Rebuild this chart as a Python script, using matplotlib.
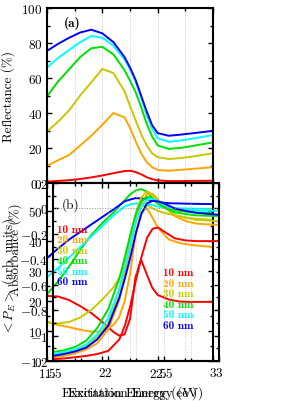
import numpy as np
import matplotlib
matplotlib.use('Agg')
import matplotlib.pyplot as plt
from matplotlib.ticker import MultipleLocator, FuncFormatter

plt.rcParams['font.family'] = ['cmr10', 'DejaVu Serif']
plt.rcParams['mathtext.fontset'] = 'cm'
plt.rcParams['axes.unicode_minus'] = False

# film thickness labels and colours
labels = ['10 nm', '20 nm', '30 nm', '40 nm', '50 nm', '60 nm']
colors = ['#ff0000', '#ffa500', '#c8c800', '#00e000', '#00ffff', '#0000ff']

# (a) reflectance (%)
E_a = [1.5, 1.6, 1.7, 1.8, 1.9, 2.0, 2.1, 2.2, 2.25, 2.3, 2.35, 2.4, 2.45, 2.5, 2.6, 2.7, 2.8, 3.0]
R_10 = [0.8, 1.2, 1.6, 2.3, 3.2, 4.3, 5.6, 6.8, 7.0, 6.3, 5.0, 3.3, 2.2, 1.5, 1.1, 1.1, 1.2, 1.3]
R_20 = [9.8, 13.0, 16.0, 21.5, 27.0, 33.3, 40.0, 37.5, 31.5, 24.0, 17.0, 12.0, 9.0, 7.5, 7.0, 7.5, 8.0, 9.0]
R_30 = [29.5, 35.0, 41.5, 50.0, 57.5, 65.2, 62.8, 52.5, 44.0, 36.0, 28.0, 21.5, 17.0, 14.8, 13.7, 14.2, 15.0, 17.0]
R_40 = [49.5, 58.0, 65.0, 72.0, 77.0, 77.8, 73.5, 64.5, 58.5, 52.0, 43.5, 34.0, 26.5, 21.5, 19.5, 20.0, 21.0, 23.2]
R_50 = [66.0, 71.5, 76.0, 80.5, 84.0, 83.0, 78.5, 70.5, 65.0, 58.0, 49.0, 39.0, 31.0, 25.5, 23.6, 24.2, 25.2, 27.4]
R_60 = [75.5, 79.5, 83.0, 86.0, 87.6, 85.5, 80.5, 72.0, 66.0, 59.0, 50.0, 41.0, 33.0, 28.5, 27.0, 27.6, 28.3, 29.8]

# (b) absorbance (%)
E_b = [1.5, 1.6, 1.7, 1.8, 1.9, 2.0, 2.1, 2.15, 2.2, 2.25, 2.3, 2.35, 2.4, 2.45, 2.5, 2.6, 2.7, 2.8, 3.0]
A_10 = [21.7, 21.5, 20.3, 18.3, 16.0, 13.0, 9.7, 8.5, 8.8, 14.0, 28.0, 33.8, 29.0, 24.5, 22.0, 20.5, 19.8, 19.7, 19.7]
A_20 = [13.0, 12.0, 11.3, 10.4, 9.8, 9.8, 12.0, 14.5, 19.7, 29.0, 42.0, 49.5, 51.0, 48.0, 44.5, 40.5, 39.3, 38.7, 38.0]
A_30 = [13.0, 12.5, 13.0, 14.5, 17.0, 20.5, 24.5, 27.5, 32.0, 39.0, 46.5, 51.5, 52.0, 51.0, 50.0, 49.0, 48.2, 47.6, 47.0]
A_40 = [22.3, 26.5, 31.5, 37.0, 42.0, 46.0, 49.5, 51.5, 53.5, 55.5, 56.8, 57.3, 56.5, 54.5, 52.5, 50.8, 50.0, 49.6, 49.3]
A_50 = [28.0, 31.0, 34.5, 38.0, 41.5, 45.0, 48.5, 50.0, 51.5, 52.2, 52.5, 52.5, 52.3, 52.0, 51.5, 51.0, 50.9, 50.8, 50.7]
A_60 = [34.3, 37.5, 40.5, 43.0, 45.5, 48.0, 50.5, 51.8, 53.2, 53.8, 54.3, 54.2, 54.0, 53.5, 53.0, 52.6, 52.5, 52.4, 52.3]

# (b) <P_E> (arb. units)
P_10 = [-1.185, -1.18, -1.17, -1.16, -1.145, -1.12, -1.03, -0.92, -0.76, -0.56, -0.38, -0.23, -0.16, -0.15, -0.18, -0.235, -0.252, -0.257, -0.257]
P_20 = [-1.17, -1.16, -1.14, -1.11, -1.06, -0.95, -0.72, -0.5, -0.3, -0.1, 0.04, 0.11, 0.115, 0.07, 0.02, -0.06, -0.1, -0.12, -0.13]
P_30 = [-1.15, -1.14, -1.12, -1.08, -1.01, -0.9, -0.64, -0.45, -0.22, -0.03, 0.09, 0.135, 0.11, 0.06, 0.01, -0.05, -0.075, -0.09, -0.1]
P_40 = [-1.13, -1.115, -1.09, -1.04, -0.94, -0.79, -0.55, -0.38, -0.2, -0.04, 0.06, 0.09, 0.08, 0.04, 0.01, -0.03, -0.045, -0.055, -0.06]
P_50 = [-1.145, -1.13, -1.11, -1.07, -0.99, -0.86, -0.63, -0.46, -0.28, -0.1, 0.02, 0.07, 0.075, 0.055, 0.03, 0.0, -0.01, -0.015, -0.02]
P_60 = [-1.16, -1.145, -1.125, -1.095, -1.03, -0.92, -0.7, -0.55, -0.38, -0.19, -0.04, 0.04, 0.06, 0.055, 0.04, 0.0, -0.02, -0.035, -0.05]

R_all = [R_10, R_20, R_30, R_40, R_50, R_60]
A_all = [A_10, A_20, A_30, A_40, A_50, A_60]
P_all = [P_10, P_20, P_30, P_40, P_50, P_60]

W, H = 298.0, 402.0
fig = plt.figure(figsize=(W / 100, H / 100), dpi=100)
axa = fig.add_axes([47 / W, 1 - 184 / H, 166 / W, 175 / H])
ax1 = fig.add_axes([47 / W, 40 / H, 166 / W, 178 / H])
ax2 = fig.add_axes([53 / W, 40 / H, 166 / W, 178 / H])
ax2.patch.set_visible(False)

fmt = FuncFormatter(lambda v, p: '$%g$' % round(v, 2))
fs = 9.5


def style(ax):
    ax.set_xlim(1.5, 3.0)
    ax.xaxis.set_major_locator(MultipleLocator(0.5))
    ax.xaxis.set_minor_locator(MultipleLocator(0.25))
    ax.xaxis.set_major_formatter(fmt)
    ax.yaxis.set_major_formatter(fmt)
    ax.tick_params(which='both', direction='in', top=True, right=True, width=1.0, labelsize=fs)
    ax.tick_params(which='major', length=3.5)
    ax.tick_params(which='minor', length=2)
    for s in ax.spines.values():
        s.set_linewidth(1.5)
    ax.grid(True, axis='x', which='both', color='#c0c0c0', ls=':', lw=0.6)


# panel (a)
for R, c in zip(R_all, colors):
    axa.plot(E_a, R, color=c, lw=1.4)
style(axa)
axa.set_ylim(0, 100)
axa.yaxis.set_major_locator(MultipleLocator(20))
axa.yaxis.set_minor_locator(MultipleLocator(10))
axa.tick_params(labelbottom=False)
axa.set_ylabel('Reflectance (%)', fontsize=fs)
axa.yaxis.set_label_coords(-0.19, 0.5)
axa.text(0.1, 0.9, '(a)', transform=axa.transAxes, fontsize=fs, family='cmb10')

# panel (b), absorbance
for A, c in zip(A_all, colors):
    ax1.plot(E_b, A, color=c, lw=1.4)
style(ax1)
ax1.set_ylim(0, 178 / 3.0)
ax1.yaxis.set_major_locator(MultipleLocator(10))
ax1.yaxis.set_minor_locator(MultipleLocator(5))
ax1.set_ylabel('Absorbance (%)', fontsize=fs)
ax1.yaxis.set_label_coords(-0.15, 0.63)
ax1.set_xlabel('Excitation Energy (eV)', fontsize=fs)
ax1.text(0.09, 0.86, '(b)', transform=ax1.transAxes, fontsize=fs)
for i, (lab, c) in enumerate(zip(labels, colors)):
    ax1.text(0.06, 0.742 - i * 0.0584, lab, color=c, fontsize=8, family='cmb10',
             transform=ax1.transAxes, va='center')

# panel (b), <P_E>
for P, c in zip(P_all, colors):
    ax2.plot(E_b, P, color=c, lw=1.4)
style(ax2)
ax2.set_ylim(-1.2, 0.2)
ax2.yaxis.set_major_locator(MultipleLocator(0.2))
ax2.yaxis.set_minor_locator(MultipleLocator(0.1))
ax2.axhline(0, color='#909090', ls=':', lw=0.7)
ax2.set_ylabel(r'$<P_E>$ (arb. units)', fontsize=fs)
ax2.yaxis.set_label_coords(-0.21, 0.48)
ax2.set_xlabel('Excitation Energy (eV)', fontsize=fs)
for i, (lab, c) in enumerate(zip(labels, colors)):
    ax2.text(0.66, 0.5 - i * 0.0595, lab, color=c, fontsize=8, family='cmb10',
             transform=ax2.transAxes, va='center')

fig.savefig('out.png', dpi=100)
